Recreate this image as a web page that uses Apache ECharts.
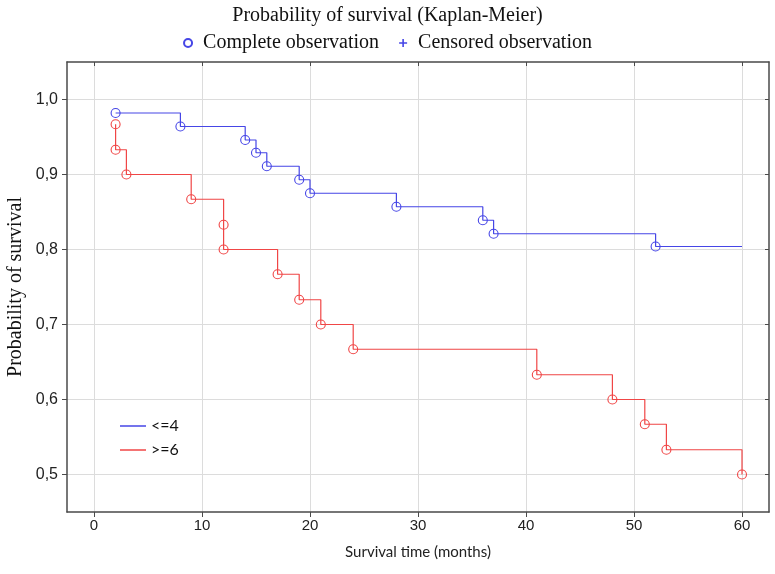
<!DOCTYPE html>
<html><head><meta charset="utf-8">
<script src="https://cdn.jsdelivr.net/npm/echarts@6/dist/echarts.min.js"></script>
<style>html,body{margin:0;padding:0;background:#fff}#c{width:775px;height:574px}</style>
</head><body><div id="c"></div>
<script>
const titleText = 'Probability of survival (Kaplan-Meier)';
const xTicks = [0, 10, 20, 30, 40, 50, 60];
const yTicks = [0.5, 0.6, 0.7, 0.8, 0.9, 1.0];
const blueName = '<=4';
const blueTimes = [2, 8, 14, 15, 16, 19, 20, 28, 36, 37, 52];
const blueSurv = [0.982, 0.964, 0.946, 0.929, 0.911, 0.893, 0.875, 0.857, 0.839, 0.821, 0.804];
const blueEndTime = 60;
const redName = '>=6';
const redTimes = [2, 2, 3, 9, 12, 12, 17, 19, 21, 24, 41, 48, 51, 53, 60];
const redSurv = [0.967, 0.933, 0.9, 0.867, 0.833, 0.8, 0.767, 0.733, 0.7, 0.667, 0.633, 0.6, 0.567, 0.533, 0.5];
const censoredTimesBlue = [];
const censoredSurvBlue = [];

const BLUE = '#4646e6', RED = '#f04646', FRAME = '#4a4a4a';
const pts = (t, s) => t.map((v, i) => [v, s[i]]);
const blueLine = pts(blueTimes, blueSurv).concat([[blueEndTime, blueSurv[blueSurv.length - 1]]]);
const redLine = pts(redTimes, redSurv);

const ch = echarts.init(document.getElementById('c'));
const plus = 'path://M4,0 L6,0 L6,4 L10,4 L10,6 L6,6 L6,10 L4,10 L4,6 L0,6 L0,4 L4,4 Z';
const xBase = {type: 'value', min: -2.5, max: 62.5};
const yBase = {type: 'value', min: 0.45, max: 1.05};
const hollow = c => ({color: 'rgba(0,0,0,0)', borderColor: c, borderWidth: 1.1, opacity: 1});
ch.setOption({
  animation: false,
  title: {text: titleText, left: 'center', top: 1,
    textStyle: {fontFamily: 'Liberation Serif', fontSize: 20, fontWeight: 'normal', color: '#111'}},
  legend: [
    {data: ['Complete observation', 'Censored observation'], top: 28, left: 'center', itemGap: 20,
      itemWidth: 8, itemHeight: 8,
      textStyle: {fontFamily: 'Liberation Serif', fontSize: 20, color: '#111', padding: [0, 0, 0, 6]}},
    {data: [{name: blueName, icon: 'rect'}, {name: redName, icon: 'rect'}], orient: 'vertical', left: 115, top: 413, itemGap: 8,
      itemWidth: 26, itemHeight: 1.5,
      textStyle: {fontFamily: 'Lato', fontSize: 16, color: '#111', padding: [0, 0, 0, 0]}}
  ],
  grid: {left: 67, right: 6, top: 62, bottom: 62, outerBoundsMode: 'none', containLabel: false},
  xAxis: [
    Object.assign({}, xBase, {position: 'bottom', name: 'Survival time (months)', nameLocation: 'middle', nameGap: 33,
      nameMoveOverlap: false,
      nameTextStyle: {fontFamily: 'Lato', fontSize: 15, color: '#222'},
      axisLine: {show: true, onZero: false, lineStyle: {color: FRAME, width: 1.5}},
      axisTick: {show: true, length: 5, customValues: xTicks, lineStyle: {color: FRAME}},
      axisLabel: {customValues: xTicks, fontFamily: 'Liberation Sans', fontSize: 15, color: '#222', margin: 6},
      splitLine: {show: true, lineStyle: {color: '#dcdcdc', width: 1}}}),
    Object.assign({}, xBase, {position: 'top',
      axisLine: {show: true, onZero: false, lineStyle: {color: FRAME, width: 1.5}},
      axisTick: {show: true, inside: true, length: 4, customValues: xTicks, lineStyle: {color: FRAME}},
      axisLabel: {show: false}, splitLine: {show: false}})
  ],
  yAxis: [
    Object.assign({}, yBase, {position: 'left', name: 'Probability of survival', nameLocation: 'middle', nameGap: 41,
      nameMoveOverlap: false,
      nameTextStyle: {fontFamily: 'Liberation Serif', fontSize: 20, color: '#111'},
      axisLine: {show: true, onZero: false, lineStyle: {color: FRAME, width: 1.5}},
      axisTick: {show: true, length: 5, customValues: yTicks, lineStyle: {color: FRAME}},
      axisLabel: {customValues: yTicks, fontFamily: 'Liberation Sans', fontSize: 16, color: '#222', margin: 9,
        formatter: v => v.toFixed(1).replace('.', ',')},
      splitLine: {show: true, lineStyle: {color: '#dcdcdc', width: 1}}}),
    Object.assign({}, yBase, {position: 'right',
      axisLine: {show: true, onZero: false, lineStyle: {color: FRAME, width: 1.5}},
      axisTick: {show: true, inside: true, length: 4, customValues: yTicks, lineStyle: {color: FRAME}},
      axisLabel: {show: false}, splitLine: {show: false}})
  ],
  series: [
    {name: blueName, type: 'line', step: 'end', data: blueLine, symbol: 'none', clip: false,
      lineStyle: {color: BLUE, width: 1.2}, itemStyle: {color: BLUE}},
    {name: redName, type: 'line', step: 'end', data: redLine, symbol: 'none', clip: false,
      lineStyle: {color: RED, width: 1.2}, itemStyle: {color: RED}},
    {name: 'Complete observation', type: 'scatter', data: pts(blueTimes, blueSurv), symbol: 'circle',
      symbolSize: 9, itemStyle: hollow(BLUE), clip: false, z: 3},
    {name: 'Complete observation', type: 'scatter', data: pts(redTimes, redSurv), symbol: 'circle',
      symbolSize: 9, itemStyle: hollow(RED), clip: false, z: 3},
    {name: 'Censored observation', type: 'scatter', data: pts(censoredTimesBlue, censoredSurvBlue), symbol: plus,
      symbolSize: 8, itemStyle: {color: BLUE, opacity: 1}}
  ]
});
</script></body></html>
